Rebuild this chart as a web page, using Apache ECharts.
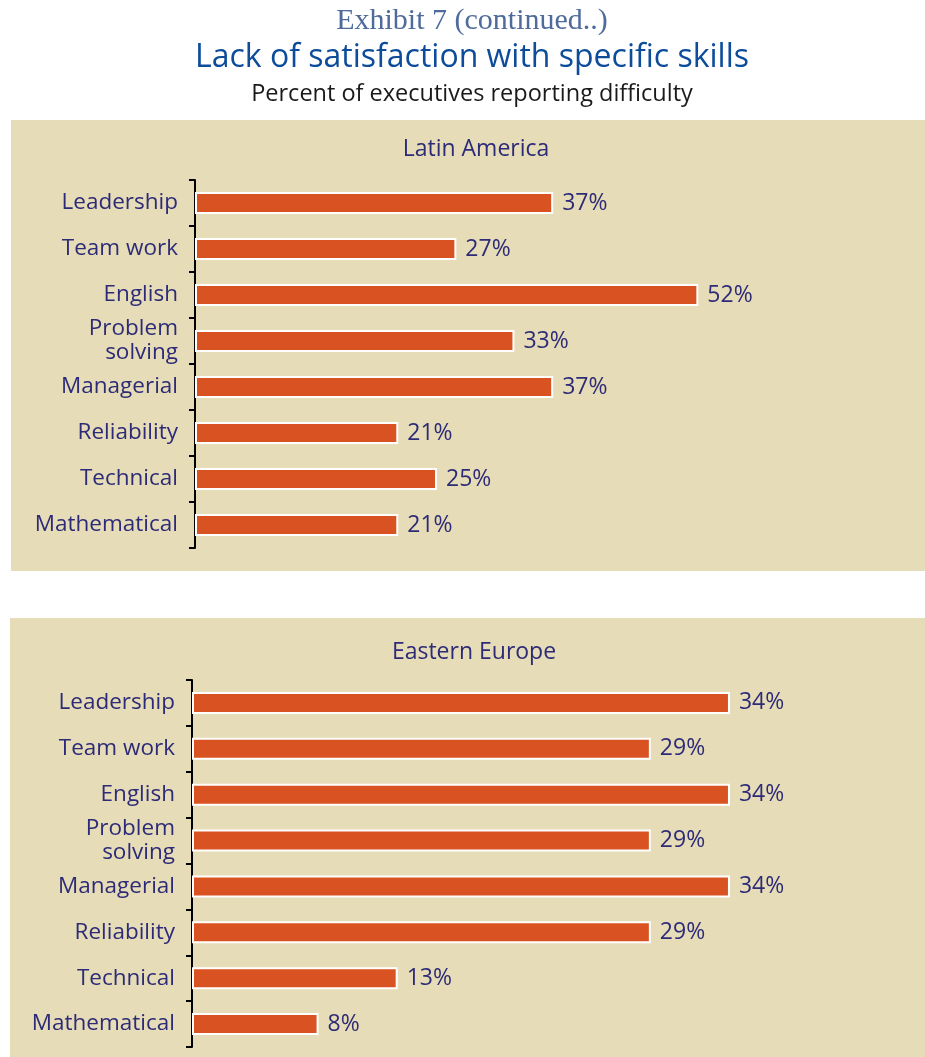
<!DOCTYPE html>
<html lang="en">
<head>
    <meta charset="UTF-8">
    <title>Lack of satisfaction with specific skills</title>
    <script src="https://cdn.jsdelivr.net/npm/echarts@6/dist/echarts.min.js"></script>
    <style>
        html, body { margin: 0; padding: 0; background: #fff; }
    </style>
</head>
<body>
<div id="main" style="width: 925px; height: 1057px;"></div>
<script>
    // skill categories, top to bottom
    var skills = ['Leadership', 'Team work', 'English', 'Problem\nsolving',
                  'Managerial', 'Reliability', 'Technical', 'Mathematical'];
    var latinAmerica = [37, 27, 52, 33, 37, 21, 25, 21];
    var easternEurope = [34, 29, 34, 29, 34, 29, 13, 8];

    var navy = '#2d2b77';
    var orange = '#d95221';
    var beige = '#e6dcb7';
    var sans = '"Open Sans", "Noto Sans", sans-serif';

    function catAxis(idx) {
        return {
            type: 'category',
            gridIndex: idx,
            data: skills,
            inverse: true,
            axisLine: { show: true, lineStyle: { color: '#000', width: 2 } },
            axisTick: { show: true, length: 6, lineStyle: { color: '#000', width: 2 } },
            axisLabel: {
                color: navy,
                fontFamily: sans,
                fontSize: 22.5,
                lineHeight: 24,
                margin: 17,
                align: 'right'
            }
        };
    }

    function valAxis(idx, max) {
        return {
            type: 'value',
            gridIndex: idx,
            min: 0,
            max: max,
            show: false
        };
    }

    function barSeries(idx, values) {
        return {
            type: 'bar',
            xAxisIndex: idx,
            yAxisIndex: idx,
            data: values,
            barWidth: 22,
            itemStyle: { color: orange, borderColor: '#fff', borderWidth: 2 },
            label: {
                show: true,
                position: 'right',
                distance: 9,
                formatter: '{c}%',
                color: navy,
                fontFamily: sans,
                fontSize: 23
            },
            animation: false
        };
    }

    function centerText(text, x, y, font, color) {
        return {
            type: 'text',
            x: x,
            y: y,
            style: {
                text: text,
                fill: color,
                font: font,
                textAlign: 'center',
                textVerticalAlign: 'middle'
            }
        };
    }

    var myChart = echarts.init(document.getElementById('main'));
    var option = {
        animation: false,
        graphic: [
            { type: 'rect', z: -10, shape: { x: 11, y: 120, width: 914, height: 451 }, style: { fill: beige } },
            { type: 'rect', z: -10, shape: { x: 10, y: 618, width: 915, height: 439 }, style: { fill: beige } },
            centerText('Exhibit 7 (continued..)', 472, 21, '30px "Liberation Serif", serif', '#4f6b9c'),
            centerText('Lack of satisfaction with specific skills', 472, 58, '32px ' + sans, '#0c4c9a'),
            centerText('Percent of executives reporting difficulty', 472, 94, '23.5px ' + sans, '#1a1a1a'),
            centerText('Latin America', 476, 149, '23px ' + sans, navy),
            centerText('Eastern Europe', 474, 652, '23px ' + sans, navy)
        ],
        grid: [
            { left: 195, top: 180, width: 726, height: 368 },
            { left: 192, top: 680, width: 712, height: 367 }
        ],
        xAxis: [valAxis(0, 75), valAxis(1, 45)],
        yAxis: [catAxis(0), catAxis(1)],
        series: [barSeries(0, latinAmerica), barSeries(1, easternEurope)]
    };
    myChart.setOption(option);
</script>
</body>
</html>
